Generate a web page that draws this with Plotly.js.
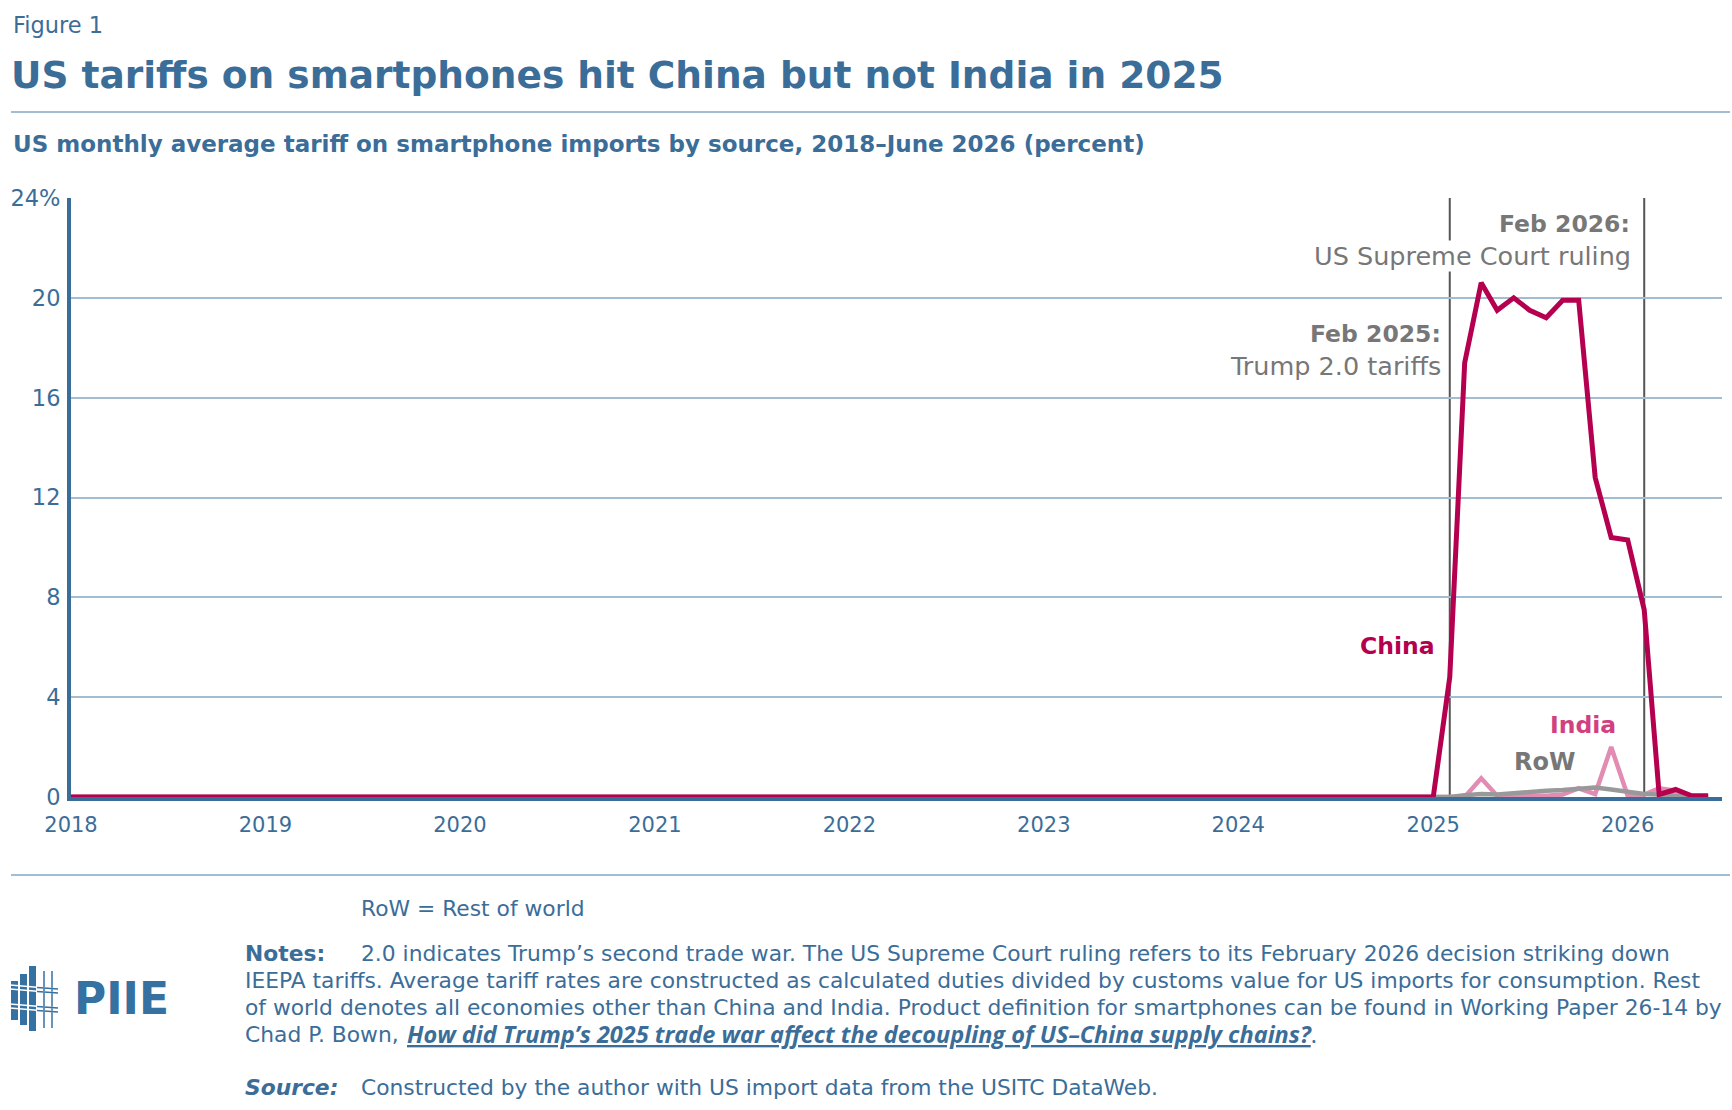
<!DOCTYPE html>
<html>
<head>
<meta charset="utf-8">
<script src="https://cdn.plot.ly/plotly-3.0.1.min.js"></script>
<style>
  body { margin: 0; background: #fff; }
  #chart { width: 1732px; height: 1110px; }
</style>
</head>
<body>
<div id="chart"></div>
<script>
// Monthly observations, January 2018 through June 2026 (percent)
const startYear = 2018;
const yearTicks = ["2018", "2019", "2020", "2021", "2022", "2023", "2024", "2025", "2026"];
const axisPercent = [0, 4, 8, 12, 16, 20, 24];

const china = [
  0, 0, 0, 0, 0, 0, 0, 0, 0, 0, 0, 0, // 2018
  0, 0, 0, 0, 0, 0, 0, 0, 0, 0, 0, 0, // 2019
  0, 0, 0, 0, 0, 0, 0, 0, 0, 0, 0, 0, // 2020
  0, 0, 0, 0, 0, 0, 0, 0, 0, 0, 0, 0, // 2021
  0, 0, 0, 0, 0, 0, 0, 0, 0, 0, 0, 0, // 2022
  0, 0, 0, 0, 0, 0, 0, 0, 0, 0, 0, 0, // 2023
  0, 0, 0, 0, 0, 0, 0, 0, 0, 0, 0, 0, // 2024
  0, 4.8, 17.4, 20.6, 19.5, 20.0, 19.5, 19.2, 19.9, 19.9, 12.8, 10.4, // 2025
  10.3, 7.5, 0.1, 0.3, 0.05, 0.05 // 2026
];

const india = [
  0, 0, 0, 0, 0, 0, 0, 0, 0, 0, 0, 0,
  0, 0, 0, 0, 0, 0, 0, 0, 0, 0, 0, 0,
  0, 0, 0, 0, 0, 0, 0, 0, 0, 0, 0, 0,
  0, 0, 0, 0, 0, 0, 0, 0, 0, 0, 0, 0,
  0, 0, 0, 0, 0, 0, 0, 0, 0, 0, 0, 0,
  0, 0, 0, 0, 0, 0, 0, 0, 0, 0, 0, 0,
  0, 0, 0, 0, 0, 0, 0, 0, 0, 0, 0, 0,
  0, 0, 0, 0.75, 0.05, 0.05, 0.05, 0.05, 0.1, 0.35, 0.12, 2.0,
  0.05, 0.1, 0.35, 0.25, 0, 0
];

const row = [
  0, 0, 0, 0, 0, 0, 0, 0, 0, 0, 0, 0,
  0, 0, 0, 0, 0, 0, 0, 0, 0, 0, 0, 0,
  0, 0, 0, 0, 0, 0, 0, 0, 0, 0, 0, 0,
  0, 0, 0, 0, 0, 0, 0, 0, 0, 0, 0, 0,
  0, 0, 0, 0, 0, 0, 0, 0, 0, 0, 0, 0,
  0, 0, 0, 0, 0, 0, 0, 0, 0, 0, 0, 0,
  0, 0, 0, 0, 0, 0, 0, 0, 0, 0, 0, 0,
  0, 0, 0.07, 0.12, 0.1, 0.16, 0.22, 0.25, 0.28, 0.35, 0.38, 0.3,
  0.2, 0.12, 0.1, 0.05, 0.02, 0
];

const events = ["2025-02-01", "2026-02-01"];

// month start dates matching the series above
const months = china.map((_, i) => {
  const y = startYear + Math.floor(i / 12);
  const m = String((i % 12) + 1).padStart(2, "0");
  return `${y}-${m}-01`;
});

const BLUE = "#3b6d99";
const GRID = "#a2bcd2";
const GREY = "#777777";
const FONT = "DejaVu Sans, sans-serif";
const NARROW = "Open Sans, sans-serif";

// plot box in page pixels, used to place the free text around it
const L = 71, R = 1722, T = 198, B = 797;
const px = (x) => (x - L) / (R - L);
const py = (y) => (B - y) / (B - T);

function label(text, x, y, size, color, extra) {
  return Object.assign({
    xref: "paper", yref: "paper",
    x: px(x), y: py(y),
    text: text,
    showarrow: false,
    xanchor: "left", yanchor: "middle",
    align: "left",
    font: { family: FONT, size: size, color: color },
  }, extra || {});
}

const traces = [
  { x: months, y: india, name: "India", type: "scatter", mode: "lines",
    line: { color: "#e28cb3", width: 4.5 } },
  { x: months, y: row, name: "RoW", type: "scatter", mode: "lines",
    line: { color: "#999999", width: 4.5 } },
  { x: months, y: china, name: "China", type: "scatter", mode: "lines",
    line: { color: "#b5004f", width: 5 } },
];

const shapes = events.map((d) => ({
  type: "line", xref: "x", yref: "y", layer: "below",
  x0: d, x1: d, y0: 0, y1: 24,
  line: { color: "#555555", width: 2 },
}));

// rules above and below the chart
shapes.push(
  { type: "line", xref: "paper", yref: "paper", x0: px(11), x1: px(1730), y0: py(112), y1: py(112),
    line: { color: GRID, width: 2 } },
  { type: "line", xref: "paper", yref: "paper", x0: px(11), x1: px(1730), y0: py(875), y1: py(875),
    line: { color: GRID, width: 2 } }
);

// PIIE mark
const LOGO = "#3571a1";
[[11, 18, 981, 1020], [20, 27, 974, 1025], [29, 36, 966, 1031]].forEach(([x0, x1, y0, y1]) => {
  shapes.push({ type: "rect", xref: "paper", yref: "paper",
    x0: px(x0), x1: px(x1), y0: py(y0), y1: py(y1),
    fillcolor: LOGO, line: { width: 0 } });
});
[44, 52].forEach((x) => {
  shapes.push({ type: "line", xref: "paper", yref: "paper",
    x0: px(x), x1: px(x), y0: py(971), y1: py(1028), line: { color: LOGO, width: 1.5 } });
});
[985, 989, 1004, 1008].forEach((y) => {
  shapes.push({ type: "line", xref: "paper", yref: "paper",
    x0: px(10), x1: px(58), y0: py(y), y1: py(y + 4), line: { color: "#ffffff", width: 1.5 } });
});
[985, 989, 1004, 1008].forEach((y) => {
  shapes.push({ type: "line", xref: "paper", yref: "paper",
    x0: px(37), x1: px(58), y0: py(y + 2.5), y1: py(y + 4), line: { color: LOGO, width: 1.5 } });
});

const NOTE = 21.8;
const annotations = [
  label("Figure 1", 11, 25, 22.5, BLUE),
  label("<b>US tariffs on smartphones hit China but not India in 2025</b>", 9, 75, 37.5, BLUE),
  label("US monthly average tariff on smartphone imports by source, 2018–June 2026 (percent)", 11, 144, 23, BLUE,
    { font: { family: FONT, size: 23, color: BLUE, weight: 600 } }),

  label("<b>Feb 2026:</b>", 1632, 224, 23.5, GREY, { xanchor: "right" }),
  label("US Supreme Court ruling", 1632, 256, 25.5, GREY,
    { xanchor: "right", bgcolor: "#ffffff", borderpad: 0 }),
  label("<b>Feb 2025:</b>", 1443, 334, 23.5, GREY, { xanchor: "right" }),
  label("Trump 2.0 tariffs", 1443, 366, 25.5, GREY, { xanchor: "right" }),

  label("<b>China</b>", 1437, 646, 23.5, "#b5004f", { xanchor: "right" }),
  label("<b>India</b>", 1583, 725, 23.5, "#d0417e", { xanchor: "center" }),
  label("<b>RoW</b>", 1544, 762, 24, GREY, { xanchor: "center" }),

  label("RoW = Rest of world", 359, 908, NOTE, BLUE),
  label("<b>Notes:</b>", 243, 953, NOTE, BLUE),
  label("2.0 indicates Trump’s second trade war. The US Supreme Court ruling refers to its February 2026 decision striking down", 359, 953, NOTE, BLUE),
  label("IEEPA tariffs. Average tariff rates are constructed as calculated duties divided by customs value for US imports for consumption. Rest", 243, 980, NOTE, BLUE),
  label("of world denotes all economies other than China and India. Product definition for smartphones can be found in Working Paper 26-14 by", 243, 1007, NOTE, BLUE),
  label("Chad P. Bown,", 243, 1034, NOTE, BLUE),
  label("<b><i><u>How did Trump’s 2025 trade war affect the decoupling of US–China supply chains?</u></i></b>.", 405, 1034, 23.5, BLUE,
    { font: { family: NARROW, size: 23.5, color: BLUE } }),
  label("<b><i>Source:</i></b>", 243, 1087, NOTE, BLUE),
  label("Constructed by the author with US import data from the USITC DataWeb.", 359, 1087, NOTE, BLUE),

  label("<b>PIIE</b>", 72, 998, 44, LOGO),
];

const layout = {
  width: 1732,
  height: 1110,
  autosize: false,
  margin: { l: L, r: 1732 - R, t: T, b: 1110 - B, pad: 0 },
  paper_bgcolor: "#ffffff",
  plot_bgcolor: "#ffffff",
  showlegend: false,
  font: { family: FONT, color: BLUE },
  xaxis: {
    type: "date",
    range: ["2018-01-01", "2026-06-27"],
    tickvals: yearTicks.map((y) => `${y}-01-01`),
    ticktext: yearTicks,
    showgrid: false,
    zeroline: false,
    showline: true,
    linecolor: BLUE,
    linewidth: 4,
    ticks: "",
    ticklabelstandoff: 6,
    tickfont: { family: FONT, size: 21, color: BLUE },
  },
  yaxis: {
    range: [0, 24],
    tickvals: axisPercent,
    ticktext: axisPercent.map((v) => (v === 24 ? "24%" : String(v))),
    showgrid: true,
    gridcolor: GRID,
    gridwidth: 2,
    zeroline: false,
    showline: true,
    linecolor: BLUE,
    linewidth: 4,
    ticks: "",
    ticklabelstandoff: 2,
    tickfont: { family: FONT, size: 22.5, color: BLUE },
  },
  shapes: shapes,
  annotations: annotations,
};

Plotly.newPlot("chart", traces, layout, { displayModeBar: false, staticPlot: true });
</script>
</body>
</html>
